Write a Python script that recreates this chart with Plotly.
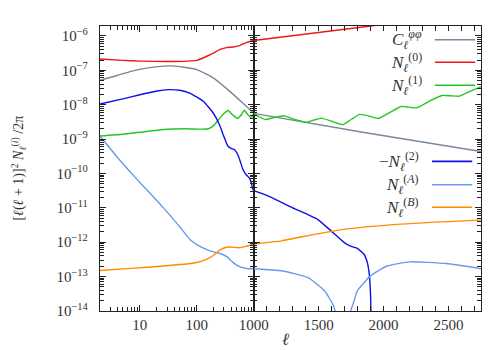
import math
import plotly.graph_objects as go

# ---------------- data ----------------
ell_C = [2, 4, 7, 15, 32, 60, 100, 194, 380, 640, 1000, 1850, 2750]
C_pp = [5.13e-8, 7.08e-8, 9.33e-8, 1.20e-7, 1.35e-7, 1.23e-7, 1.05e-7, 6.03e-8,
        2.45e-8, 1.12e-8, 5.62e-9, 1.55e-9, 4.37e-10]

ell_N0 = [2, 5, 10, 30, 70, 100, 150, 200, 250, 330, 430, 560, 780, 1000, 1900, 2750]
N0 = [2.14e-7, 1.95e-7, 1.86e-7, 1.80e-7, 1.86e-7, 1.95e-7, 2.57e-7, 3.24e-7,
      3.98e-7, 4.57e-7, 4.79e-7, 5.25e-7, 6.61e-7, 7.41e-7, 1.95e-6, 4.90e-6]

ell_N1 = [2, 5, 10, 26, 60, 120, 160, 200, 230, 290, 352, 430, 524, 600, 680, 780, 890, 1000,
          1040, 1089, 1150, 1230, 1310, 1400, 1460, 1520, 1600, 1684, 1750, 1815, 1890, 1962,
          2050, 2135, 2195, 2254, 2350, 2450, 2515, 2583, 2660, 2750]
N1 = [1.23e-9, 1.38e-9, 1.58e-9, 1.91e-9, 2.00e-9, 1.95e-9, 2.00e-9, 2.51e-9, 3.31e-9,
      5.25e-9, 6.76e-9, 5.01e-9, 3.98e-9, 5.01e-9, 6.92e-9, 5.25e-9, 4.17e-9, 5.50e-9,
      4.47e-9, 3.72e-9, 4.17e-9, 4.79e-9, 3.80e-9, 3.09e-9, 3.55e-9, 4.07e-9, 3.31e-9,
      2.63e-9, 3.72e-9, 5.25e-9, 4.68e-9, 3.98e-9, 6.03e-9, 8.91e-9, 8.51e-9, 8.13e-9,
      1.26e-8, 1.86e-8, 1.82e-8, 1.78e-8, 2.40e-8, 3.31e-8]

ell_N2 = [2, 5, 10, 20, 32, 50, 75, 130, 194, 250, 290, 350, 400, 460, 520, 580, 640, 730, 830,
          900, 950, 1000, 1114, 1300, 1494, 1595, 1697, 1750, 1798, 1849, 1875, 1890, 1900, 1906]
minus_N2 = [1.05e-8, 1.48e-8, 1.95e-8, 2.51e-8, 2.75e-8, 2.63e-8, 2.19e-8, 1.26e-8, 5.75e-9,
            2.63e-9, 1.35e-9, 6.31e-10, 5.37e-10, 4.90e-10, 3.63e-10, 2.24e-10, 1.35e-10,
            9.33e-11, 7.59e-11, 5.62e-11, 3.80e-11, 3.16e-11, 2.19e-11, 1.00e-11, 4.57e-12,
            2.14e-12, 9.77e-13, 7.59e-13, 6.61e-13, 4.47e-13, 2.51e-13, 1.12e-13, 2.51e-14, 1.0e-15]

ell_NA = [2, 4.1, 7, 10, 26, 50, 76, 100, 130, 170, 220, 280, 350, 420, 520, 640, 800, 1000,
          1215, 1418, 1545, 1608, 1626, 1640, 1733, 1747, 1773, 1798, 1899, 2026, 2203, 2482, 2750]
NA = [1.23e-9, 2.88e-10, 1.05e-10, 5.50e-11, 1.00e-11, 2.82e-12, 1.20e-12, 8.51e-13,
      6.76e-13, 5.62e-13, 5.01e-13, 4.47e-13, 3.63e-13, 2.69e-13, 2.09e-13, 1.82e-13,
      1.70e-13, 1.70e-13, 1.48e-13, 9.33e-14, 3.89e-14, 1.58e-14, 1.0e-14, 3.16e-15,
      3.16e-15, 1.0e-14, 2.00e-14, 3.89e-14, 1.05e-13, 2.04e-13, 2.69e-13, 2.40e-13, 1.70e-13]

ell_NB = [2, 7, 26, 60, 100, 148, 200, 252, 352, 560, 730, 1000, 1215, 1469, 1722, 2102, 2750]
NB = [1.51e-13, 1.74e-13, 2.04e-13, 2.29e-13, 2.57e-13, 3.16e-13, 4.27e-13, 5.89e-13,
      7.24e-13, 6.92e-13, 7.59e-13, 8.91e-13, 1.10e-12, 1.70e-12, 2.45e-12, 3.31e-12, 4.47e-12]

y_tick_vals = [1e-14, 1e-13, 1e-12, 1e-11, 1e-10, 1e-9, 1e-8, 1e-7, 1e-6]
y_tick_text = ["10<sup>−14</sup>", "10<sup>−13</sup>", "10<sup>−12</sup>", "10<sup>−11</sup>",
               "10<sup>−10</sup>", "10<sup>−9</sup>", "10<sup>−8</sup>", "10<sup>−7</sup>",
               "10<sup>−6</sup>"]
x_left_ticks = [10, 100, 1000]
x_left_text = ["10", "100", "1000"]
x_right_ticks = [1500, 2000, 2500]

legend_top = ["<i>C</i><sub><i>ℓ</i></sub><sup><i>φφ</i></sup>",
              "<i>N</i><sub><i>ℓ</i></sub><sup>(0)</sup>",
              "<i>N</i><sub><i>ℓ</i></sub><sup>(1)</sup>"]
legend_bot = ["−<i>N</i><sub><i>ℓ</i></sub><sup>(2)</sup>",
              "<i>N</i><sub><i>ℓ</i></sub><sup>(<i>A</i>)</sup>",
              "<i>N</i><sub><i>ℓ</i></sub><sup>(<i>B</i>)</sup>"]

# ---------------- styling ----------------
C_GRAY = "#778899"
C_RED = "#f01414"
C_GREEN = "#22c822"
C_BLUE = "#1010e6"
C_LBLUE = "#6a9af0"
C_ORANGE = "#ff8c00"

series = [
    (ell_C, C_pp, C_GRAY),
    (ell_N0, N0, C_RED),
    (ell_N1, N1, C_GREEN),
    (ell_N2, minus_N2, C_BLUE),
    (ell_NA, NA, C_LBLUE),
    (ell_NB, NB, C_ORANGE),
]

SPLIT = 1000
fig = go.Figure()
for ell, vals, col in series:
    lx = [e for e in ell if e <= SPLIT]
    ly = [v for e, v in zip(ell, vals) if e <= SPLIT]
    rx = [e for e in ell if e >= SPLIT]
    ry = [v for e, v in zip(ell, vals) if e >= SPLIT]
    fig.add_trace(go.Scatter(x=lx, y=ly, xaxis="x", yaxis="y", mode="lines",
                             line=dict(color=col, width=1.4, shape="spline", smoothing=0.45),
                             showlegend=False, hoverinfo="skip"))
    fig.add_trace(go.Scatter(x=rx, y=ry, xaxis="x2", yaxis="y2", mode="lines",
                             line=dict(color=col, width=1.4, shape="spline", smoothing=0.45),
                             showlegend=False, hoverinfo="skip"))

LINE = "#222222"
FONT = "Liberation Serif, DejaVu Serif, serif"
split_dom = 0.4036
common = dict(showline=True, linecolor=LINE, linewidth=1.3, mirror="ticks",
              ticks="inside", tickcolor=LINE, tickwidth=1, showgrid=False, zeroline=False)
ylog_minor = dict(ticks="inside", ticklen=3.5, tickcolor=LINE, dtick="D1", showgrid=False)

fig.update_layout(
    width=500, height=350,
    margin=dict(l=92, r=19, t=18, b=47),
    paper_bgcolor="white", plot_bgcolor="white",
    font=dict(family=FONT, size=15, color="#333333"),
    xaxis=dict(type="log", range=[math.log10(2), 3], domain=[0, split_dom], anchor="y",
               tickmode="array", tickvals=x_left_ticks, ticktext=x_left_text, ticklen=6,
               minor=dict(ticks="inside", ticklen=3.5, tickcolor=LINE, dtick="D1", showgrid=False),
               **common),
    xaxis2=dict(type="linear", range=[1000, 2750], domain=[split_dom, 1], anchor="y2",
                tickmode="array", tickvals=x_right_ticks, ticklen=5,
                minor=dict(ticks="inside", ticklen=5, tickcolor=LINE, dtick=100, tick0=1000, showgrid=False),
                **common),
    yaxis=dict(type="log", range=[-14, -5.71], domain=[0, 1], anchor="x",
               tickmode="array", tickvals=y_tick_vals, ticktext=y_tick_text,
               ticklen=6, ticklabelstandoff=8, minor=ylog_minor, **common),
    yaxis2=dict(type="log", matches="y", range=[-14, -5.71], domain=[0, 1], anchor="x2",
                tickmode="array", tickvals=y_tick_vals, showticklabels=False,
                ticklen=6, minor=ylog_minor, **common),
)

# axis titles
fig.add_annotation(text="[<i>ℓ</i>(<i>ℓ</i> + 1)]<sup>2</sup> <i>N</i><sub><i>ℓ</i></sub><sup>(<i>i</i>)</sup> /2π",
                   xref="paper", yref="paper", x=-0.215, y=0.5, textangle=-90,
                   showarrow=False, xanchor="center", yanchor="middle", font=dict(size=14))
fig.add_annotation(text="<i>ℓ</i>", xref="paper", yref="paper", x=0.488, y=-0.1,
                   showarrow=False, xanchor="center", yanchor="middle", font=dict(size=17))

# custom legends (label left, line sample right)
def add_legend(labels, colors, ys, x_text, x0, x1):
    for lab, col, yy in zip(labels, colors, ys):
        fig.add_annotation(text=lab, xref="paper", yref="paper", x=x_text, y=yy,
                           xanchor="right", yanchor="middle", showarrow=False,
                           font=dict(size=17, color="#333333"))
        fig.add_shape(type="line", xref="paper", yref="paper", x0=x0, x1=x1, y0=yy, y1=yy,
                      line=dict(color=col, width=1.6))

add_legend(legend_top, [C_GRAY, C_RED, C_GREEN], [0.952, 0.8726, 0.792], 0.851, 0.879, 0.9846)
add_legend(legend_bot, [C_BLUE, C_LBLUE, C_ORANGE], [0.525, 0.443, 0.364], 0.843, 0.8715, 0.977)

fig.write_html("out.html")
